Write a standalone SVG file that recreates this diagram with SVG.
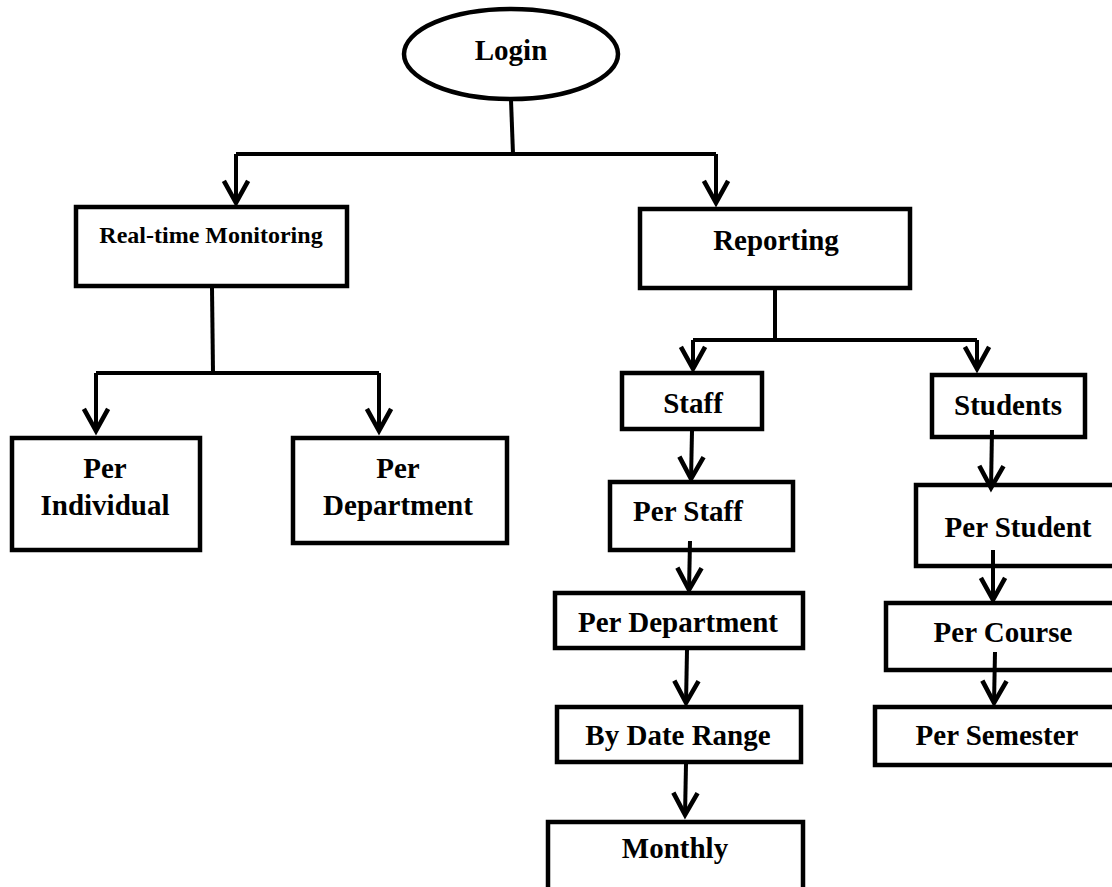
<svg xmlns="http://www.w3.org/2000/svg" width="1112" height="887" viewBox="0 0 1112 887">
  <style>
    .box { fill: #ffffff; stroke: #000000; stroke-width: 4.5; }
    .lbl { font-family: "Liberation Serif", "Times New Roman", serif; font-weight: bold; font-size: 29px; fill: #000000; text-anchor: middle; }
    .small { font-size: 24px; }
    .wire { fill: none; stroke: #000000; stroke-width: 4; stroke-linejoin: miter; }
    .arrow { fill: none; stroke: #000000; stroke-width: 4; marker-end: url(#vhead); }
  </style>
  <defs>
    <marker id="vhead" markerUnits="userSpaceOnUse" markerWidth="30" markerHeight="30" refX="1" refY="0" viewBox="-22 -13 26 26" orient="auto" overflow="visible">
      <path d="M -19 -10.5 L 0 0 L -19 10.5" fill="none" stroke="#000000" stroke-width="4" stroke-linejoin="miter"/>
    </marker>
  </defs>
  <rect width="1112" height="887" fill="#ffffff"/>

  <g id="login">
    <ellipse cx="511" cy="54" rx="107" ry="45" fill="#ffffff" stroke="#000000" stroke-width="4.5"/>
    <text class="lbl" x="511" y="60">Login</text>
  </g>

  <g id="realtime">
    <rect class="box" x="76" y="207" width="271" height="79"/>
    <text class="lbl small" x="211" y="243">Real-time Monitoring</text>
  </g>

  <g id="reporting">
    <rect class="box" x="640" y="209" width="270" height="79"/>
    <text class="lbl" x="776" y="250">Reporting</text>
  </g>

  <g id="per-individual">
    <rect class="box" x="12" y="438" width="188" height="112"/>
    <text class="lbl" x="105" y="478">Per</text>
    <text class="lbl" x="105" y="515">Individual</text>
  </g>

  <g id="per-department-rt">
    <rect class="box" x="293" y="438" width="214" height="105"/>
    <text class="lbl" x="398" y="478">Per</text>
    <text class="lbl" x="398" y="515">Department</text>
  </g>

  <g id="staff">
    <rect class="box" x="622" y="373" width="140" height="56"/>
    <text class="lbl" x="693" y="413">Staff</text>
  </g>

  <g id="students">
    <rect class="box" x="932" y="375" width="153" height="62"/>
    <text class="lbl" x="1008" y="415">Students</text>
  </g>

  <g id="per-staff">
    <rect class="box" x="610" y="482" width="183" height="68"/>
    <text class="lbl" x="688" y="521">Per Staff</text>
  </g>

  <g id="per-department-staff">
    <rect class="box" x="555" y="593" width="248" height="55"/>
    <text class="lbl" x="678" y="632">Per Department</text>
  </g>

  <g id="by-date-range">
    <rect class="box" x="557" y="707" width="244" height="55"/>
    <text class="lbl" x="678" y="745">By Date Range</text>
  </g>

  <g id="monthly">
    <rect class="box" x="548" y="822" width="255" height="80"/>
    <text class="lbl" x="675" y="858">Monthly</text>
  </g>

  <g id="per-student">
    <rect class="box" x="916" y="485" width="210" height="81"/>
    <text class="lbl" x="1018" y="537">Per Student</text>
  </g>

  <g id="per-course">
    <rect class="box" x="886" y="603" width="240" height="67"/>
    <text class="lbl" x="1003" y="642">Per Course</text>
  </g>

  <g id="per-semester">
    <rect class="box" x="875" y="707" width="251" height="58"/>
    <text class="lbl" x="997" y="745">Per Semester</text>
  </g>

  <!-- connectors, drawn over the boxes so stems that start inside a box stay visible -->
  <g id="connectors">
    <path class="wire" d="M 511 100 L 513 154"/>
    <path class="wire" d="M 236 154 L 716 154"/>
    <path class="arrow" d="M 236 154 L 236 204"/>
    <path class="arrow" d="M 716 154 L 716 204"/>

    <path class="wire" d="M 212 288 L 213 373"/>
    <path class="wire" d="M 96 373 L 379 373"/>
    <path class="arrow" d="M 96 373 L 96 432"/>
    <path class="arrow" d="M 379 373 L 379 432"/>

    <path class="wire" d="M 775 290 L 775 340"/>
    <path class="wire" d="M 693 340 L 977 340"/>
    <path class="arrow" d="M 693 340 L 693 370"/>
    <path class="arrow" d="M 977 340 L 977 370"/>

    <path class="arrow" d="M 692 431 L 691 480"/>
    <path class="arrow" d="M 690 541 L 689 591"/>
    <path class="arrow" d="M 687 650 L 686 704"/>
    <path class="arrow" d="M 686 764 L 685 816"/>

    <path class="arrow" d="M 992 430 L 991 489"/>
    <path class="arrow" d="M 993 550 L 993 601"/>
    <path class="arrow" d="M 995 652 L 994 704"/>
  </g>
</svg>
